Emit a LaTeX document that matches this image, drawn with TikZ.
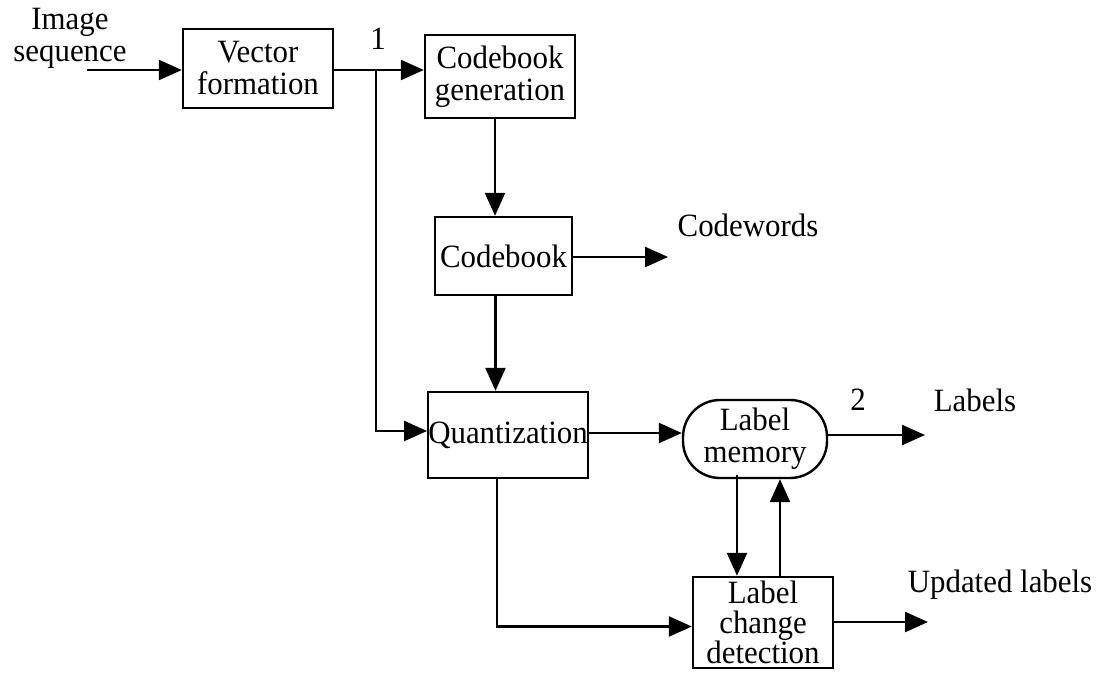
\documentclass[tikz,border=0pt]{standalone}
\usepackage{fontspec}
\setmainfont{Liberation Serif}[FakeStretch=0.95]
\usetikzlibrary{arrows.meta}
\begin{document}
\begin{tikzpicture}[x=1pt,y=-1pt,line width=2.4pt,
  >={Triangle[length=23pt,width=20pt]},
  every node/.style={font=\fontsize{32.5}{32}\selectfont,align=center,inner sep=0pt},
  box/.style={draw,rectangle,line width=2.4pt},
  rbox/.style={draw,rectangle,rounded corners=37pt,line width=2.4pt}]
\useasboundingbox (0,0) rectangle (1099,675);
% blocks
\node[box,minimum width=150pt,minimum height=79pt] (vf) at (258,68.5) {Vector\\formation};
\node[box,minimum width=150pt,minimum height=83pt] (cg) at (500,76.5) {Codebook\\generation};
\node[box,minimum width=137pt,minimum height=78pt] (cb) at (503.5,256) {Codebook};
\node[box,minimum width=154pt,minimum height=86pt] (qz) at (508,435) {Quantization};
\node[rbox,minimum width=144pt,minimum height=78pt] (lm) at (755,439) {Label\\memory};
\node[box,minimum width=140pt,minimum height=91pt,font=\fontsize{32.5}{30}\selectfont] (lcd) at (763,622.5) {Label\\change\\detection};
% texts
\node (imgseq) at (70,38) {Image\\sequence};
\node (one) at (378,39) {1};
\node (cwt) at (748,225) {Codewords};
\node (two) at (858,400) {2};
\node (lbt) at (975,400) {Labels};
\node (ult) at (1000,585) {Updated labels};
% coordinates
\coordinate (in) at (87,70);
\coordinate (j1) at (376,70);
\coordinate (cw) at (668,257);
\coordinate (lb) at (925,435);
\coordinate (ul) at (928,622);
% connectors
\draw[->] (in) -- (in -| vf.west);
\draw[->] (vf.east |- in) -- (in -| cg.west);
\draw[->] (j1) |- ([yshift=4pt]qz.west);
\draw[->] ([xshift=-5pt]cg.south) -- ([xshift=-5pt]cg.south |- cb.north);
\draw[->] (cb.east |- cw) -- (cw);
\draw[->] ([xshift=-8pt]cb.south) -- ([xshift=-8pt]cb.south |- qz.north);
\draw[->] ([yshift=2pt]qz.east) -- ([yshift=2pt]qz.east -| lm.west);
\draw[->] (lm.east |- lb) -- (lb);
\draw[->] ([xshift=-18pt,yshift=4pt]lm.south) -- ([xshift=-18pt]lm.south |- lcd.north);
\draw[->] ([xshift=25pt]lm.south |- lcd.north) -- ([xshift=25pt]lm.south);
\draw[->] ([xshift=-11pt]qz.south) |- ([yshift=-4pt]lcd.west);
\draw[->] (lcd.east |- ul) -- (ul);
\end{tikzpicture}
\end{document}
